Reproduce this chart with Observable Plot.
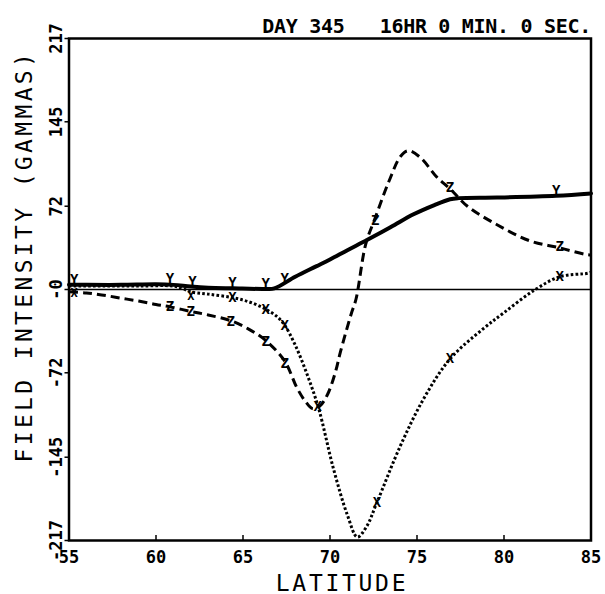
<!DOCTYPE html>
<html>
<head>
<meta charset="utf-8">
<script src="https://cdn.jsdelivr.net/npm/d3@7"></script>
<script src="https://cdn.jsdelivr.net/npm/@observablehq/plot@0.6"></script>
<style>
  html, body { margin: 0; padding: 0; background: #fff; }
  #chart { width: 605px; height: 594px; }
</style>
</head>
<body>
<div id="chart"></div>
<script>
// ---- text ----
const titleText = "DAY 345   16HR 0 MIN. 0 SEC.";
const xLabelText = "LATITUDE";
const yLabelText = "FIELD INTENSITY (GAMMAS)";

// ---- ticks ----
const xTicks = [55, 60, 65, 70, 75, 80, 85];
const yTicks = [217, 145, 72, 0, -72, -145, -217];
const yTickLabels = ["217", "145", "72", "-0", "-72", "-145", "-217"];

// ---- Y component (solid) ----
const yLat = [55, 56, 58, 60, 61, 62, 63, 64.4, 66.3, 66.8, 68, 69.2, 70, 71, 72.15, 73.5, 74.8, 76, 76.9, 77.4, 79.6, 83, 85];
const yVal = [4, 4, 4, 4.5, 4, 2.5, 1.5, 1, 0.5, 1, 11, 20, 26, 34, 43, 54, 65, 73, 78, 79, 79.5, 81, 83];

// ---- Z component (dashed) ----
const zLat = [55, 56, 57, 58, 59, 60, 60.8, 62, 63, 64.3, 65.3, 66.3, 67.4, 68.1, 68.6, 69.0, 69.4, 69.85, 70.3, 70.6, 71.2, 71.5, 72.05, 72.6, 73.4, 74.05, 74.5, 75.2, 76.15, 76.9, 77.9, 79.6, 81.5, 83.2, 84.8, 85];
const zVal = [-2, -3, -5, -7.5, -10, -13, -15, -19, -22, -27, -34, -44, -62, -85, -97, -103, -101, -91, -72, -54, -22, -8, 39, 62, 94, 115, 120, 114, 97, 87, 72, 56, 42, 36, 30, 30];

// ---- X component (dotted) ----
const xLat = [55, 57, 59, 61, 61.5, 62, 63, 64.4, 65.4, 66.3, 67, 67.4, 68, 68.7, 69.35, 70.2, 71.0, 71.57, 72.1, 72.7, 74.05, 75.4, 76.9, 78.8, 80, 81.7, 83.2, 84.8, 85];
const xVal = [3, 3, 3, 3, 1, -2, -4, -7, -11, -17, -24, -31, -48, -74, -103, -155, -195, -214, -205, -184, -135, -94, -60, -34, -20, -1, 11, 14, 15];

// ---- letter markers at stations ----
const yMarkLat = [55.3, 60.8, 62.1, 64.4, 66.3, 67.4, 83.0];
const yMarkVal = [4, 4.5, 2.5, 1, 0.5, 5, 81];
const zMarkLat = [60.8, 62.0, 64.3, 66.3, 67.4, 72.6, 76.9, 83.2];
const zMarkVal = [-15, -19, -28, -45, -64, 60, 88, 37];
const xMarkLat = [64.4, 66.3, 67.4, 69.3, 72.7, 76.9, 83.2];
const xMarkVal = [-7, -17, -31, -101, -184, -60, 11];
// X markers sitting just under the overlapping Y markers at the first stations
const xLowMarkLat = [55.3, 62.0];
const xLowMarkVal = [2, -1];

const toRows = (lats, vals) => lats.map((lat, i) => ({lat, v: vals[i]}));
const yRows = toRows(yLat, yVal);
const zRows = toRows(zLat, zVal);
const xRows = toRows(xLat, xVal);
const yMarks = toRows(yMarkLat, yMarkVal);
const zMarks = toRows(zMarkLat, zMarkVal);
const xMarks = toRows(xMarkLat, xMarkVal);
const xLowMarks = toRows(xLowMarkLat, xLowMarkVal);

const FONT = "'DejaVu Sans Mono', 'Liberation Mono', monospace";

const svg = Plot.plot({
  width: 605,
  height: 594,
  marginLeft: 68.5,
  marginRight: 14.5,
  marginTop: 38,
  marginBottom: 54,
  style: {fontFamily: FONT, background: "#fff", color: "#000", overflow: "visible"},
  x: {domain: [55, 85]},
  y: {domain: [-217, 217]},
  marks: [
    Plot.ruleY([0], {strokeWidth: 1.4, stroke: "#000"}),
    Plot.line(xRows, {x: "lat", y: "v", curve: "catmull-rom", stroke: "#000", strokeWidth: 3, strokeDasharray: "2.6,2.2", strokeLinecap: "butt"}),
    Plot.line(zRows, {x: "lat", y: "v", curve: "catmull-rom", stroke: "#000", strokeWidth: 3, strokeDasharray: "9,5", strokeLinecap: "butt"}),
    Plot.line(yRows, {x: "lat", y: "v", curve: "catmull-rom", stroke: "#000", strokeWidth: 4}),
    Plot.text(yMarks, {x: "lat", y: "v", text: () => "Y", lineAnchor: "bottom", dy: -1, fontSize: 14, fontWeight: "bold", fill: "#000"}),
    Plot.text(zMarks, {x: "lat", y: "v", text: () => "Z", lineAnchor: "middle", fontSize: 14, fontWeight: "bold", fill: "#000"}),
    Plot.text(xMarks, {x: "lat", y: "v", text: () => "X", lineAnchor: "middle", fontSize: 14, fontWeight: "bold", fill: "#000"}),
    Plot.text(xLowMarks, {x: "lat", y: "v", text: () => "X", lineAnchor: "top", dy: 1, fontSize: 12, fontWeight: "bold", fill: "#000"}),
    Plot.frame({stroke: "#000", strokeWidth: 2.5}),
    Plot.axisX({ticks: xTicks, tickSize: -5, text: null, label: null, strokeWidth: 1.5}),
    Plot.axisX({ticks: xTicks, tickSize: 0, tickPadding: 10, label: null, fontSize: 17, fontWeight: "bold", tickFormat: d => String(d)}),
    Plot.axisY({ticks: yTicks, tickSize: 4, text: null, label: null, strokeWidth: 1.5}),
    Plot.text(yTicks, {y: d => d, text: (d, i) => yTickLabels[i], frameAnchor: "left", dx: -7, rotate: -90, textAnchor: "middle", lineAnchor: "bottom", fontSize: 17, fontWeight: "bold", fill: "#000"}),
    Plot.text([titleText], {frameAnchor: "top-right", dy: -6, textAnchor: "end", lineAnchor: "bottom", fontSize: 20, fontWeight: "bold", fill: "#000"}),
    Plot.text([xLabelText], {frameAnchor: "bottom", dx: 12, dy: 50, lineAnchor: "bottom", fontSize: 23, fill: "#000"}),
    Plot.text([yLabelText], {frameAnchor: "left", dx: -44, dy: 173, rotate: -90, textAnchor: "start", lineAnchor: "middle", fontSize: 23, fill: "#000"})
  ]
});

d3.select(svg).selectAll("text").each(function() {
  const t = this.textContent;
  if (t === xLabelText) d3.select(this).attr("letter-spacing", "2.7px");
  if (t === yLabelText) d3.select(this).attr("letter-spacing", "3.35px");
  if (t === titleText) d3.select(this).style("white-space", "pre").attr("xml:space", "preserve").attr("letter-spacing", "-0.3px");
});

document.getElementById("chart").appendChild(svg);
</script>
</body>
</html>
